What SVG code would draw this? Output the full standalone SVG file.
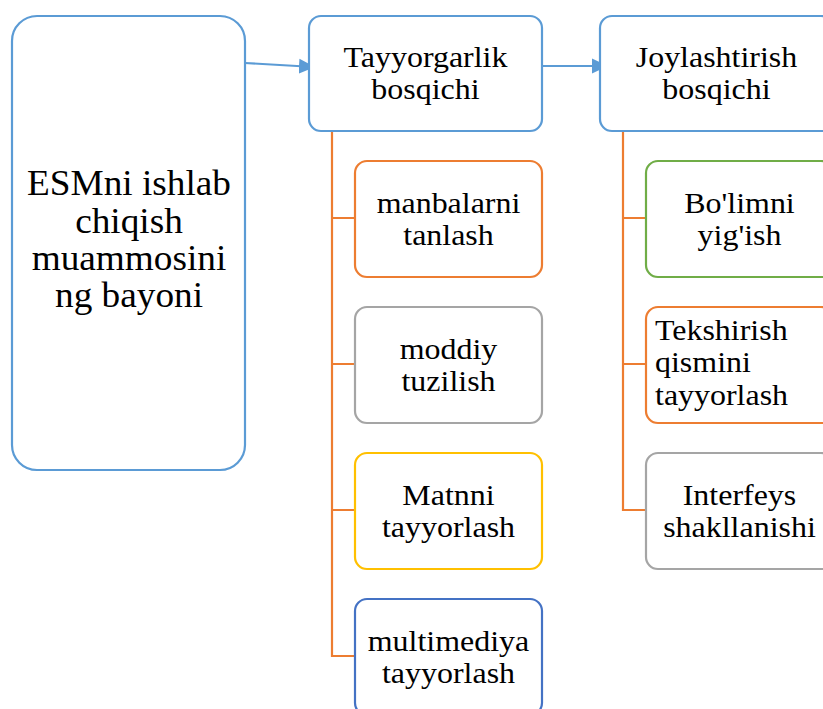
<svg xmlns="http://www.w3.org/2000/svg" width="823" height="709" viewBox="0 0 823 709">
<style>
.box{fill:#fff;stroke-width:2.2}
.blue{stroke:#5B9BD5}
.orange{stroke:#ED7D31}
.gray{stroke:#A5A5A5}
.gold{stroke:#FFC000}
.dblue{stroke:#4472C4}
.green{stroke:#70AD47}
text{font-family:'Liberation Serif','Times New Roman',serif;fill:#000}
.big{font-size:35px;text-anchor:middle}
.t{font-size:30px;text-anchor:middle}
.l{font-size:30px}
.conn line,.conn path{fill:none;stroke-width:2.2}
</style>
<defs>
<marker id="ah" markerUnits="userSpaceOnUse" markerWidth="16" markerHeight="16" refX="15" refY="8" orient="auto">
<path d="M0,0.5 L16,8 L0,15.5 Z" fill="#5B9BD5"/>
</marker>
</defs>
<g id="connectors" class="conn">
<line x1="245" y1="63" x2="314" y2="67" stroke="#5B9BD5" marker-end="url(#ah)"/>
<line x1="543" y1="66" x2="607" y2="66" stroke="#5B9BD5" marker-end="url(#ah)"/>
<path d="M332,131 V656 H355 M332,218 H355 M332,364 H355 M332,510 H355" stroke="#ED7D31"/>
<path d="M623,131 V510 H646 M623,218 H646 M623,364 H646" stroke="#ED7D31"/>
</g>
<g id="n-esm">
<rect class="box blue" x="12" y="16" width="233" height="454" rx="25"/>
<g transform="translate(129,0) scale(1.065,1)">
<text class="big" x="0" y="195">ESMni ishlab</text>
<text class="big" x="0" y="233">chiqish</text>
<text class="big" x="0" y="270">muammosini</text>
<text class="big" x="0" y="307">ng bayoni</text>
</g>
</g>
<g id="n-tayyor">
<rect class="box blue" x="309" y="16" width="233" height="115" rx="12"/>
<g transform="translate(425.5,0) scale(1.065,1)">
<text class="t" x="0" y="67">Tayyorgarlik</text>
<text class="t" x="0" y="99">bosqichi</text>
</g>
</g>
<g id="n-joy">
<rect class="box blue" x="600" y="16" width="233" height="115" rx="12"/>
<g transform="translate(716.5,0) scale(1.065,1)">
<text class="t" x="0" y="67">Joylashtirish</text>
<text class="t" x="0" y="99">bosqichi</text>
</g>
</g>
<g id="n-manba">
<rect class="box orange" x="355" y="161" width="187" height="116" rx="12"/>
<g transform="translate(448.5,0) scale(1.065,1)">
<text class="t" x="0" y="213">manbalarni</text>
<text class="t" x="0" y="245">tanlash</text>
</g>
</g>
<g id="n-moddiy">
<rect class="box gray" x="355" y="307" width="187" height="116" rx="12"/>
<g transform="translate(448.5,0) scale(1.065,1)">
<text class="t" x="0" y="359">moddiy</text>
<text class="t" x="0" y="391">tuzilish</text>
</g>
</g>
<g id="n-matn">
<rect class="box gold" x="355" y="453" width="187" height="116" rx="12"/>
<g transform="translate(448.5,0) scale(1.065,1)">
<text class="t" x="0" y="505">Matnni</text>
<text class="t" x="0" y="537">tayyorlash</text>
</g>
</g>
<g id="n-multi">
<rect class="box dblue" x="355" y="599" width="187" height="116" rx="12"/>
<g transform="translate(448.5,0) scale(1.065,1)">
<text class="t" x="0" y="651">multimediya</text>
<text class="t" x="0" y="683">tayyorlash</text>
</g>
</g>
<g id="n-bolim">
<rect class="box green" x="646" y="161" width="187" height="116" rx="12"/>
<g transform="translate(739.5,0) scale(1.065,1)">
<text class="t" x="0" y="213">Bo'limni</text>
<text class="t" x="0" y="245">yig'ish</text>
</g>
</g>
<g id="n-tekshir">
<rect class="box orange" x="646" y="307" width="187" height="116" rx="12"/>
<g transform="translate(655,0) scale(1.065,1)">
<text class="l" x="0" y="340">Tekshirish</text>
<text class="l" x="0" y="372">qismini</text>
<text class="l" x="0" y="405">tayyorlash</text>
</g>
</g>
<g id="n-interf">
<rect class="box gray" x="646" y="453" width="187" height="116" rx="12"/>
<g transform="translate(739.5,0) scale(1.065,1)">
<text class="t" x="0" y="505">Interfeys</text>
<text class="t" x="0" y="537">shakllanishi</text>
</g>
</g>
</svg>
